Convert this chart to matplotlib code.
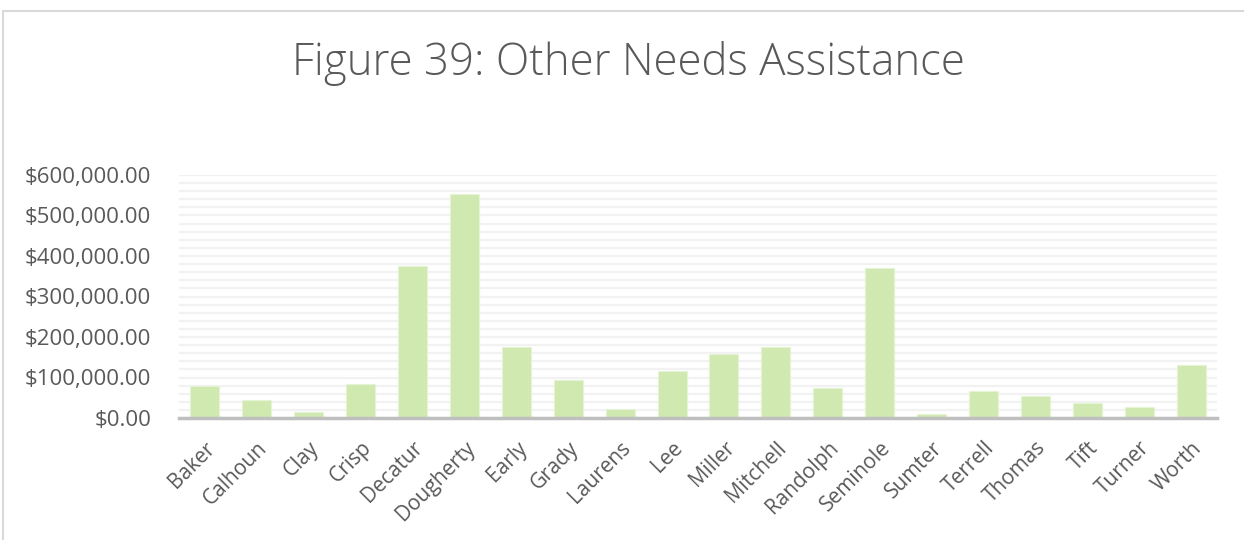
import matplotlib.pyplot as plt
from matplotlib.patches import Rectangle
from matplotlib.ticker import MultipleLocator, FuncFormatter

counties = ["Baker", "Calhoun", "Clay", "Crisp", "Decatur", "Dougherty", "Early",
            "Grady", "Laurens", "Lee", "Miller", "Mitchell", "Randolph", "Seminole",
            "Sumter", "Terrell", "Thomas", "Tift", "Turner", "Worth"]
ona_amounts = [78300, 43700, 14800, 83200, 375000, 552000, 174700,
               94000, 22000, 117000, 157000, 175500, 75000, 371000,
               9000, 66800, 55000, 38000, 27000, 131000]

TEXT_COLOR = "#595959"
BAR_COLOR = "#CFE9B0"

plt.rcParams["font.family"] = ["Open Sans", "DejaVu Sans"]

fig = plt.figure(figsize=(12.44, 5.40), dpi=100)
ax = fig.add_axes([179 / 1244, 1 - 418 / 540, (1217 - 179) / 1244, (418 - 175) / 540])

# chart frame
fig.patches.append(Rectangle((3 / 1244, -0.1), 1.2, 1 - 11 / 540 + 0.1,
                             transform=fig.transFigure, fill=False,
                             edgecolor="#D9D9D9", linewidth=1.5))

x = range(len(counties))
ax.bar(x, ona_amounts, width=0.56, color=BAR_COLOR, edgecolor="#E6F4D6",
       linewidth=0.8, zorder=3)

ax.set_xlim(-0.5, len(counties) - 0.5)
ax.set_ylim(0, 600000)
ax.yaxis.set_major_locator(MultipleLocator(100000))
ax.yaxis.set_minor_locator(MultipleLocator(20000))
ax.yaxis.set_major_formatter(FuncFormatter(lambda v, _: f"${v:,.2f}"))
ax.grid(axis="y", which="both", color="#F2F2F2", linewidth=1.6, zorder=0)

for side in ["top", "right", "left"]:
    ax.spines[side].set_visible(False)
ax.spines["bottom"].set_color("#BFBFBF")
ax.spines["bottom"].set_linewidth(2.5)
ax.spines["bottom"].set_zorder(4)

ax.tick_params(axis="both", which="both", length=0, colors=TEXT_COLOR)
ax.tick_params(axis="y", pad=20, labelsize=16)
ax.set_xticks(list(x))
ax.set_xticklabels(counties, rotation=45, ha="right", rotation_mode="anchor")
ax.tick_params(axis="x", pad=14, labelsize=15)

fig.text(628 / 1244, 1 - 64 / 540, "Figure 39: Other Needs Assistance",
         ha="center", va="center", fontsize=31.5, color=TEXT_COLOR, fontweight="light")

fig.savefig("out.png", dpi=100)
